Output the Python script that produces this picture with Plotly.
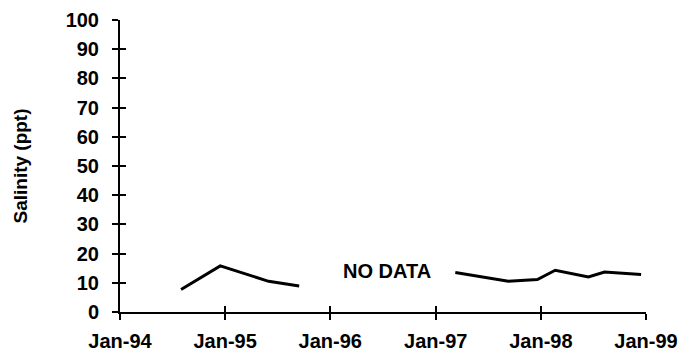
import plotly.graph_objects as go

# Data
dates = ["1994-08-01", "1994-12-15", "1995-06-01", "1995-09-15", None,
         "1997-03-10", "1997-09-10", "1997-12-20", "1998-02-20",
         "1998-06-15", "1998-08-10", "1998-12-15"]
salinity = [7.7, 15.8, 10.5, 8.9, None,
            13.5, 10.5, 11.1, 14.3, 12.0, 13.7, 12.8]

x_tickvals = ["1994-01-01", "1995-01-01", "1996-01-01", "1997-01-01",
              "1998-01-01", "1999-01-01"]
x_ticktext = ["Jan-94", "Jan-95", "Jan-96", "Jan-97", "Jan-98", "Jan-99"]
y_tickvals = [0, 10, 20, 30, 40, 50, 60, 70, 80, 90, 100]

note_text = "<b>NO DATA</b>"
note_x = "1996-07-15"
note_y = 14.0

FONT = "Liberation Sans, Arial, sans-serif"
x_range = ["1994-01-01", "1999-01-01"]
y_range = [0, 100]

fig = go.Figure()
fig.add_trace(go.Scatter(
    x=dates, y=salinity, mode="lines", connectgaps=False,
    line=dict(color="black", width=3), showlegend=False, hoverinfo="skip"))
# invisible trace so the overlay axes (for crossing ticks) are drawn
fig.add_trace(go.Scatter(
    x=dates, y=salinity, mode="lines", line=dict(width=0, color="rgba(0,0,0,0)"),
    xaxis="x2", yaxis="y2", showlegend=False, hoverinfo="skip"))

fig.add_annotation(x=note_x, y=note_y, text=note_text, showarrow=False,
                   font=dict(family=FONT, size=20, color="black"),
                   xanchor="center", yanchor="middle")

common_x = dict(range=x_range, type="date", tickvals=x_tickvals,
                showgrid=False, zeroline=False, ticklen=6, tickwidth=1.5,
                tickcolor="black")
common_y = dict(range=y_range, tickvals=y_tickvals, showgrid=False,
                zeroline=False, ticklen=6, tickwidth=1.5, tickcolor="black")

tick_font = dict(family=FONT, size=20, color="black", weight="bold")

fig.update_layout(
    width=681, height=358,
    margin=dict(l=120, r=35, t=20, b=46, autoexpand=False),
    paper_bgcolor="white", plot_bgcolor="white",
    font=dict(family=FONT, size=20, color="black"),
    xaxis=dict(**common_x, ticktext=x_ticktext, ticks="outside",
               showline=True, linecolor="black", linewidth=2,
               ticklabelstandoff=4, tickfont=tick_font),
    xaxis2=dict(**common_x, ticks="inside", overlaying="x", anchor="y",
                side="bottom", showticklabels=False, showline=False),
    yaxis=dict(**common_y, ticks="outside", showline=True, linecolor="black",
               linewidth=2, ticklabelstandoff=9, tickfont=tick_font,
               title=dict(text="Salinity (ppt)", standoff=33,
                          font=dict(family=FONT, size=19, color="black",
                                    weight="bold"))),
    yaxis2=dict(**common_y, ticks="inside", overlaying="y", anchor="x",
                side="left", showticklabels=False, showline=False),
)

fig.write_html("out.html", config={"displayModeBar": False},
               post_script="document.body.style.margin='0px';")
